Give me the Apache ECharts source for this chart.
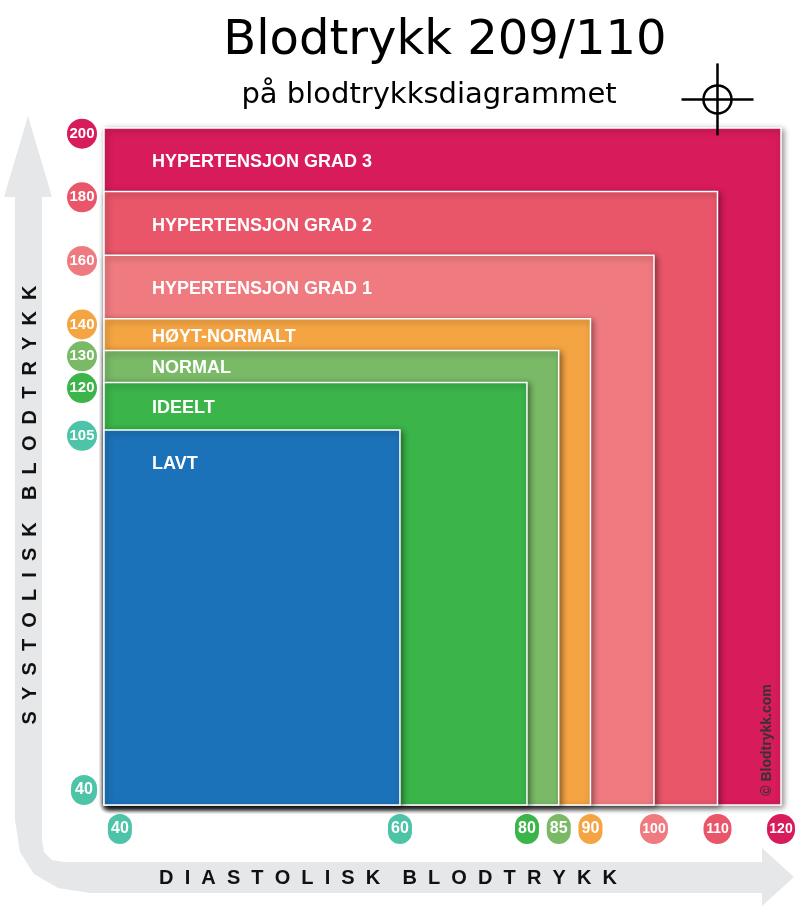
<!DOCTYPE html>
<html>
<head>
<meta charset="UTF-8">
<script src="https://cdn.jsdelivr.net/npm/echarts@6/dist/echarts.min.js"></script>
<style>html,body{margin:0;padding:0;background:#fff}#main{width:800px;height:908px}</style>
</head>
<body>
<div id="main"></div>
<script>
// soner: diastolisk grense, systolisk grense, navn, farge (største først)
var zoneNames = ['HYPERTENSJON GRAD 3', 'HYPERTENSJON GRAD 2', 'HYPERTENSJON GRAD 1', 'HØYT-NORMALT', 'NORMAL', 'IDEELT', 'LAVT'];
var zoneDia = [120, 110, 100, 90, 85, 80, 60];
var zoneSys = [200, 180, 160, 140, 130, 120, 105];
var zoneColors = ['#d81b5a', '#e9566a', '#ef7b80', '#f4a443', '#7aba67', '#3bb44a', '#1c72b8'];
var xTicks = [40, 60, 80, 85, 90, 100, 110, 120];
var xTickColors = ['#4dc4a8', '#4dc4a8', '#3bb44a', '#7aba67', '#f4a443', '#ef7b80', '#e9566a', '#d81b5a'];
var yTicks = [40, 105, 120, 130, 140, 160, 180, 200];
var yTickColors = ['#4dc4a8', '#4dc4a8', '#3bb44a', '#7aba67', '#f4a443', '#ef7b80', '#e9566a', '#d81b5a'];
var reading = [110, 209]; // diastolisk, systolisk

// diagrammet er ikke lineært: 40-60 og 40-105 er strukket
function tx(v) { return v < 60 ? (v - 40) * 2.33 : 46.6 + (v - 60); }
function ty(v) { return v < 105 ? (v - 40) * 1.814 : 117.9 + (v - 105); }

var chart = echarts.init(document.getElementById('main'));

var rich = {};
xTickColors.forEach(function (c, i) {
  var big = xTicks[i] >= 100;
  rich['x' + i] = { color: '#fff', backgroundColor: c, borderRadius: 15, width: big ? 28 : 24, height: 30, lineHeight: 30, align: 'center', fontWeight: 'bold', fontSize: big ? 14 : 16, fontFamily: 'Liberation Sans, Arial' };
});
yTickColors.forEach(function (c, i) {
  var big = yTicks[i] >= 100;
  rich['y' + i] = { color: '#fff', backgroundColor: c, borderRadius: 15, width: big ? 30 : 26, height: 30, lineHeight: 30, align: 'center', fontWeight: 'bold', fontSize: big ? 15 : 16, fontFamily: 'Liberation Sans, Arial' };
});
// 40-etikettene sitter litt innenfor hjørnet
var xLabelPos = xTicks.map(function (v, i) { return i === 0 ? tx(v) + 2.5 : tx(v); });
var yLabelPos = yTicks.map(function (v, i) { return i === 0 ? ty(v) + 4.7 : ty(v) - 1.8; });

var zoneData = zoneNames.map(function (n, i) { return [zoneDia[i], zoneSys[i], i]; });

// grå pil rundt hjørnet
var arrowPts = [[28,116],[52,197],[42,197],[42,840],[44,852],[52,860],[64,862],[762,862],[762,848],[794,877],[762,906],[762,893],[90,893],[58,888],[34,874],[20,852],[15,820],[15,197],[4,197]];

var axisTitle = { align: 'center', verticalAlign: 'middle', fontSize: 20, fontWeight: 'bold', fontFamily: 'Liberation Sans, Arial', fill: '#111' };

var option = {
  animation: false,
  grid: { left: 104, right: 19, top: 128, bottom: 103 },
  xAxis: {
    type: 'value', min: 0, max: tx(120),
    axisLine: { show: false }, axisTick: { show: false }, splitLine: { show: false },
    axisLabel: {
      customValues: xLabelPos, margin: 9,
      formatter: function (v) {
        var i = xLabelPos.findIndex(function (p) { return Math.abs(p - v) < 1e-6; });
        return '{x' + i + '|' + xTicks[i] + '}';
      },
      rich: rich
    }
  },
  yAxis: {
    type: 'value', min: 0, max: ty(200),
    axisLine: { show: false }, axisTick: { show: false }, splitLine: { show: false },
    axisLabel: {
      customValues: yLabelPos, margin: 7,
      formatter: function (v) {
        var i = yLabelPos.findIndex(function (p) { return Math.abs(p - v) < 1e-6; });
        return '{y' + i + '|' + yTicks[i] + '}';
      },
      rich: rich
    }
  },
  graphic: [
    { type: 'polygon', z: -1, shape: { points: arrowPts }, style: { fill: '#e6e7e8' } },
    { type: 'text', x: 445, y: 42, style: { text: 'Blodtrykk 209/110', align: 'center', verticalAlign: 'middle', fontSize: 48, fontFamily: 'DejaVu Sans, sans-serif', fill: '#000' } },
    { type: 'text', x: 429, y: 95, style: { text: 'på blodtrykksdiagrammet', align: 'center', verticalAlign: 'middle', fontSize: 29, fontFamily: 'DejaVu Sans, sans-serif', fill: '#000' } },
    { type: 'text', x: 30, y: 505, rotation: Math.PI / 2, style: Object.assign({ text: 'S  Y  S  T  O  L  I  S  K    B  L  O  D  T  R  Y  K  K' }, axisTitle) },
    { type: 'text', x: 388, y: 878, style: Object.assign({ text: 'D  I  A  S  T  O  L  I  S  K    B  L  O  D  T  R  Y  K  K' }, axisTitle) },
    { type: 'text', z: 100, x: 767, y: 740, rotation: Math.PI / 2, style: { text: '© Blodtrykk.com', align: 'center', verticalAlign: 'middle', fontSize: 14, fontWeight: 'bold', fontFamily: 'Liberation Sans, Arial', fill: '#333' } }
  ],
  series: [{
    type: 'custom',
    clip: false,
    data: zoneData,
    renderItem: function (params, api) {
      var i = api.value(2);
      var p0 = api.coord([tx(40), ty(40)]);
      var p1 = api.coord([tx(api.value(0)), ty(api.value(1))]);
      var next = i < zoneSys.length - 1 ? api.coord([0, ty(zoneSys[i + 1])])[1] : p0[1];
      var band = next - p1[1];
      var ly = p1[1] + Math.min(band / 2 + 2, 26) + (band > 60 ? 8 : 0);
      return {
        type: 'group',
        children: [
          { type: 'rect', shape: { x: p0[0], y: p1[1], width: p1[0] - p0[0], height: p0[1] - p1[1] },
            style: { fill: zoneColors[i], stroke: '#fff', lineWidth: 1.5, shadowBlur: 6, shadowColor: 'rgba(0,0,0,0.45)', shadowOffsetX: 2, shadowOffsetY: 2 } },
          { type: 'text', x: 152, y: ly,
            style: { text: zoneNames[i], fill: '#fff', fontSize: 18, fontWeight: 'bold', fontFamily: 'Liberation Sans, Arial', verticalAlign: 'middle' } }
        ]
      };
    }
  }, {
    type: 'custom',
    clip: false,
    data: [[tx(reading[0]), ty(reading[1])]],
    renderItem: function (params, api) {
      var p = api.coord([api.value(0), api.value(1)]);
      var st = { stroke: '#000', lineWidth: 2.5, fill: 'none' };
      return {
        type: 'group',
        children: [
          { type: 'circle', shape: { cx: p[0], cy: p[1], r: 14 }, style: st },
          { type: 'line', shape: { x1: p[0] - 36, y1: p[1], x2: p[0] + 36, y2: p[1] }, style: st },
          { type: 'line', shape: { x1: p[0], y1: p[1] - 36, x2: p[0], y2: p[1] + 36 }, style: st }
        ]
      };
    }
  }]
};
chart.setOption(option);
</script>
</body>
</html>
